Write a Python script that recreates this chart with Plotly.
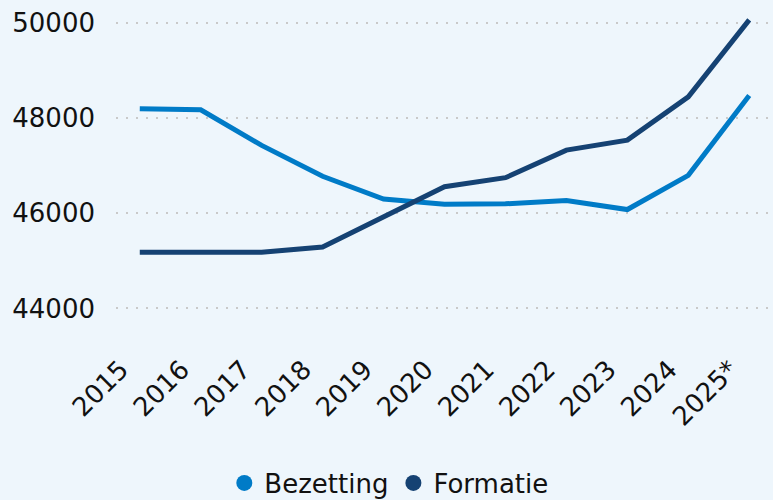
import plotly.graph_objects as go

years = ["2015", "2016", "2017", "2018", "2019", "2020", "2021", "2022", "2023", "2024", "2025*"]
bezetting = [48200, 48180, 47430, 46780, 46300, 46190, 46200, 46270, 46080, 46800, 48480]
formatie = [45180, 45180, 45180, 45290, 45920, 46560, 46750, 47330, 47540, 48450, 50070]
y_ticks = [44000, 46000, 48000, 50000]

c_bez = "#007BC7"
c_for = "#154273"
bg = "#EEF6FC"
font = "DejaVu Sans"
txt = "#111111"

fig = go.Figure()
fig.add_trace(go.Scatter(x=years, y=bezetting, mode="lines", name="Bezetting",
                         line=dict(color=c_bez, width=5), showlegend=False))
fig.add_trace(go.Scatter(x=years, y=formatie, mode="lines", name="Formatie",
                         line=dict(color=c_for, width=5), showlegend=False))
# legend entries with circle symbols (placed on the label axis)
fig.add_trace(go.Scatter(x=[None], y=[None], mode="markers", name="Bezetting", xaxis="x2",
                         marker=dict(color=c_bez, size=20, symbol="circle")))
fig.add_trace(go.Scatter(x=[None], y=[None], mode="markers", name="Formatie", xaxis="x2",
                         marker=dict(color=c_for, size=20, symbol="circle")))

shift = 0.31  # label axis offset so rotated labels end just left of each point
fig.update_layout(
    width=773, height=500,
    paper_bgcolor=bg, plot_bgcolor=bg,
    margin=dict(l=116, r=0, t=18, b=155),
    font=dict(family=font, size=26, color=txt),
    showlegend=True,
    legend=dict(orientation="h", xref="container", yref="container",
                x=0.503, xanchor="center", y=0.034, yanchor="middle",
                font=dict(size=26, family=font, color=txt),
                bgcolor="rgba(0,0,0,0)", itemwidth=30, tracegroupgap=0),
    xaxis=dict(type="category", range=[-0.39, 10.39], showticklabels=False,
               showgrid=False, showline=False, zeroline=False, ticks=""),
    xaxis2=dict(overlaying="x", anchor="y", side="bottom", type="linear",
                range=[-0.39 + shift, 10.39 + shift],
                tickvals=list(range(len(years))), ticktext=years, tickangle=-45,
                showgrid=False, showline=False, zeroline=False, ticks="",
                ticklabelstandoff=3,
                tickfont=dict(size=26, family=font, color=txt)),
    yaxis=dict(range=[43230, 50110], tickvals=y_ticks,
               ticktext=[str(v) for v in y_ticks],
               showgrid=True, gridcolor="#c9c9c9", gridwidth=2, griddash="2px,8px",
               zeroline=False, showline=False, ticks="", ticklabelstandoff=20,
               tickfont=dict(size=26, family=font, color=txt)),
)

fig.write_html("out.html", config={"displayModeBar": False},
               post_script="document.body.style.margin='0';"
                           "document.body.style.background='#EEF6FC';")
